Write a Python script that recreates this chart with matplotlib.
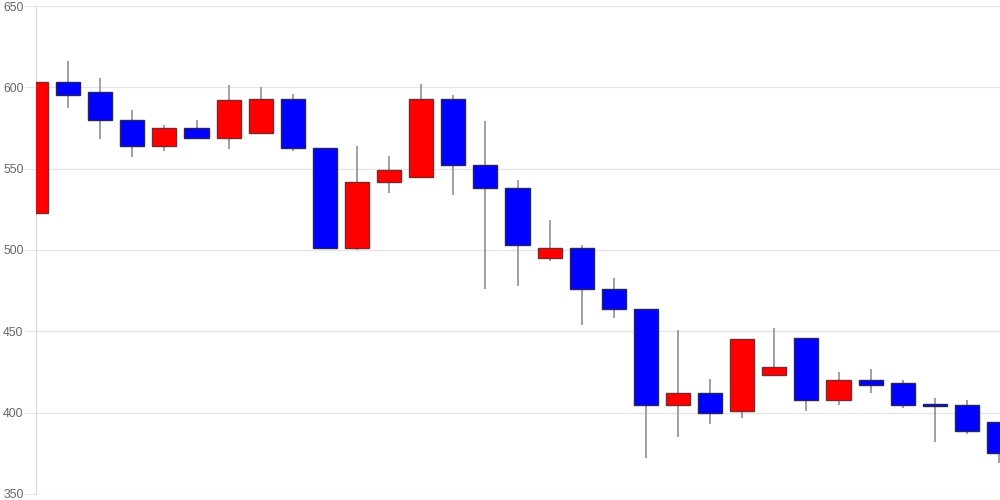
import matplotlib
matplotlib.use("Agg")
import matplotlib.pyplot as plt
import numpy as np

plt.rcParams['font.family'] = ['Liberation Sans', 'DejaVu Sans']

opens  = [523, 603, 597, 580, 564, 575, 569, 572, 593, 563, 501, 542, 545, 593, 552, 538, 495, 501, 476, 464, 405, 412, 401, 423, 446, 408, 420, 418, 405.4, 405, 394]
closes = [603, 595, 580, 564, 575, 569, 592, 593, 563, 501, 542, 549, 593, 552, 538, 503, 501, 476, 464, 405, 412, 400, 445, 428, 408, 420, 417, 405, 404, 389, 375]
highs  = [634, 616, 606, 586, 577, 580, 601.5, 600, 596, 563, 564, 558, 602, 595, 579, 543, 518.5, 503, 483, 464, 451, 421, 445, 452, 446, 425, 427, 420, 409, 408, 394]
lows   = [523, 587, 568, 557, 561, 568, 562, 572, 561, 501, 500, 535, 545, 534, 476, 478, 493, 454, 458, 372, 385, 393, 397, 423, 401, 405, 412, 403, 382, 387, 369]
y_ticks = [350, 400, 450, 500, 550, 600, 650]

fig = plt.figure(figsize=(10, 5), dpi=100)
ax = fig.add_axes([0.036, 0.012, 0.964, 0.976])

x = np.arange(len(opens))
up = [c >= o for o, c in zip(opens, closes)]
face = ['#ff0000' if u else '#0000ff' for u in up]
edge = ['#7a2a2a' if u else '#25255e' for u in up]

ax.vlines(x, lows, highs, color='#999999', linewidth=1.3, zorder=2)
bottoms = [min(o, c) for o, c in zip(opens, closes)]
heights = [max(abs(c - o), 0.8) for o, c in zip(opens, closes)]
ax.bar(x, heights, bottom=bottoms, width=0.75, color=face, edgecolor=edge, linewidth=1.0, zorder=3)

ax.set_xlim(0, 30.03)
ax.set_ylim(350, 650)
ax.set_yticks(y_ticks)
ax.set_xticks([])
ax.grid(axis='y', color='#e6e6e6', linewidth=1.0, zorder=0)
ax.set_axisbelow(True)
for s in ['top', 'right', 'bottom']:
    ax.spines[s].set_visible(False)
ax.spines['left'].set_color('#d9d9d9')
ax.tick_params(axis='y', length=8, color='#e6e6e6', labelcolor='#666666', labelsize=8.8, pad=1)

fig.savefig('out.png', dpi=100)
